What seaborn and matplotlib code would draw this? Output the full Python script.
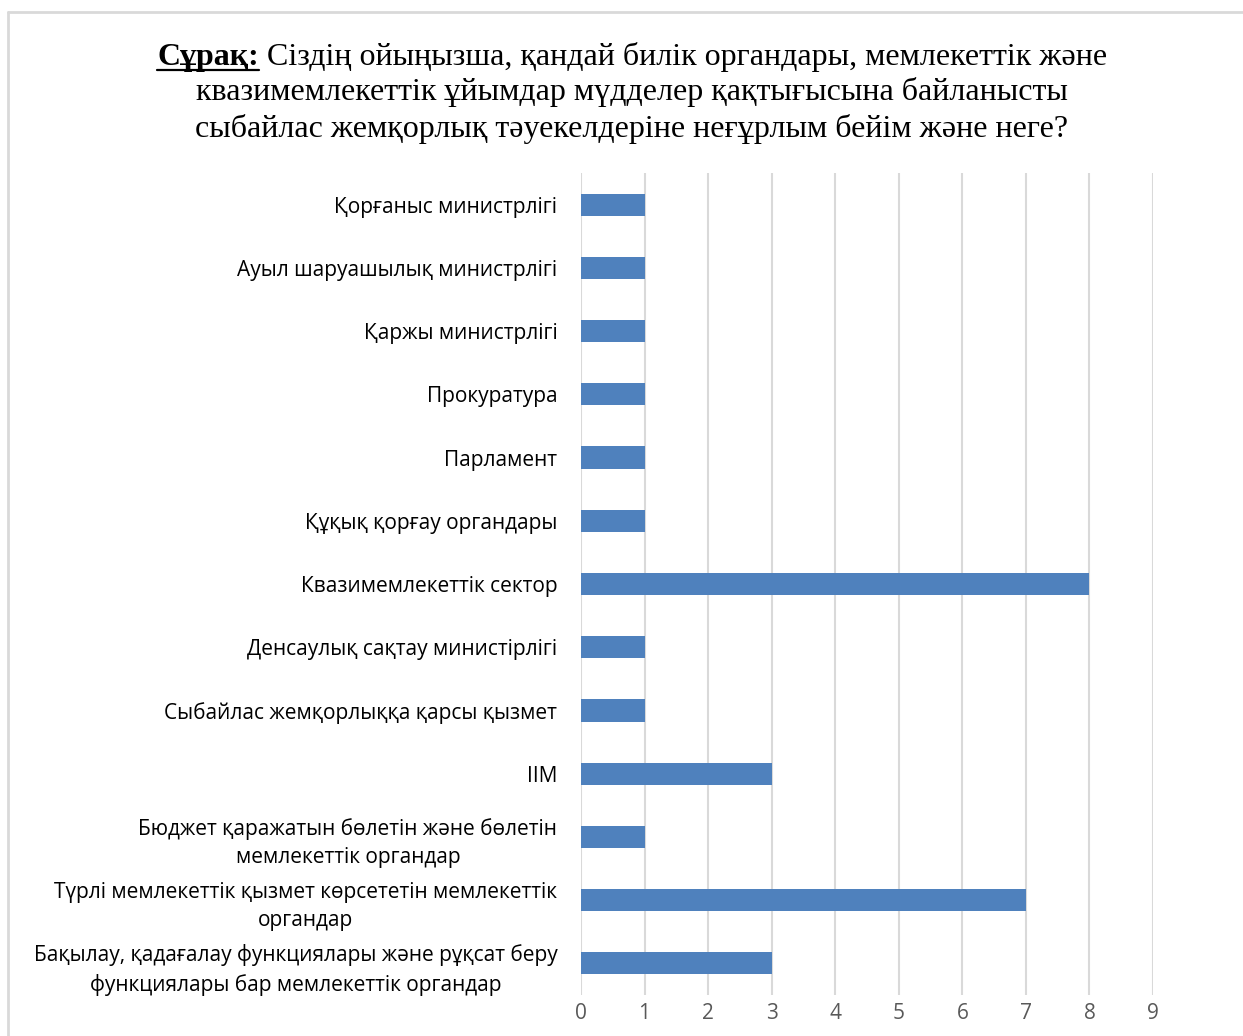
import matplotlib
matplotlib.use('Agg')
import matplotlib.pyplot as plt
import seaborn as sns
import pandas as pd

categories = [
    'Қорғаныс министрлігі',
    'Ауыл шаруашылық министрлігі',
    'Қаржы министрлігі',
    'Прокуратура',
    'Парламент',
    'Құқық қорғау органдары',
    'Квазимемлекеттік сектор',
    'Денсаулық сақтау министірлігі',
    'Сыбайлас жемқорлыққа қарсы қызмет',
    'ІІМ',
    'Бюджет қаражатын бөлетін және бөлетін\nмемлекеттік органдар',
    'Түрлі мемлекеттік қызмет көрсететін мемлекеттік\nоргандар',
    'Бақылау, қадағалау функциялары және рұқсат беру\nфункциялары бар мемлекеттік органдар',
]
values = [1, 1, 1, 1, 1, 1, 8, 1, 1, 3, 1, 7, 3]
xticks = list(range(0, 10))

title_bold = 'Сұрақ:'
title_rest = ' Сіздің ойыңызша, қандай билік органдары, мемлекеттік және'
title_lines = [
    'квазимемлекеттік ұйымдар мүдделер қақтығысына байланысты',
    'сыбайлас жемқорлық тәуекелдеріне неғұрлым бейім және неге?',
]

sns.set_style('white')
plt.rcParams['font.family'] = ['Open Sans', 'DejaVu Sans']
plt.rcParams['text.color'] = 'black'

df = pd.DataFrame({'cat': categories, 'val': values})

fig = plt.figure(figsize=(12.43, 10.36), dpi=100)
ax = fig.add_axes([0.4674, 0.0396, 0.4602, 0.7934])

sns.barplot(data=df, y='cat', x='val', orient='h', color='#4F81BD',
            saturation=1, width=0.35, ax=ax, edgecolor='none')

ax.set_xlim(0, 9)
ax.set_ylim(12.5, -0.5)
ax.set_xticks(xticks)
ax.grid(axis='x', color='#d9d9d9', linewidth=1.5)
ax.set_axisbelow(True)
for s in ax.spines.values():
    s.set_visible(False)
ax.set_xlabel('')
ax.set_ylabel('')
ax.tick_params(axis='x', length=0, pad=6, labelsize=15, labelcolor='#595959')
ax.tick_params(axis='y', length=0, pad=17, labelsize=15, labelcolor='#000000')
for lab in ax.get_yticklabels():
    lab.set_multialignment('center')
    lab.set_linespacing(1.45)

# chart border
fig.add_artist(plt.Line2D([8 / 1243, 8 / 1243], [0, 1 - 12 / 1036],
                          transform=fig.transFigure, color='#d9d9d9', lw=2))
fig.add_artist(plt.Line2D([8 / 1243, 1], [1 - 12 / 1036, 1 - 12 / 1036],
                          transform=fig.transFigure, color='#d9d9d9', lw=2))

# title
serif = ['Liberation Serif', 'DejaVu Serif']
fs = 23
cx = 632 / 1243
t1 = fig.text(0, 1 - 57 / 1036, title_bold, fontsize=fs, family=serif,
              fontweight='bold', va='center', ha='left')
t2 = fig.text(0, 1 - 57 / 1036, title_rest, fontsize=fs, family=serif,
              va='center', ha='left')
fig.canvas.draw()
r = fig.canvas.get_renderer()
w1 = t1.get_window_extent(r).width
w2 = t2.get_window_extent(r).width
x0 = cx * 1243 - (w1 + w2) / 2
t1.set_x(x0 / 1243)
t2.set_x((x0 + w1) / 1243)
uy = 1 - 70 / 1036
fig.add_artist(plt.Line2D([x0 / 1243, (x0 + w1) / 1243], [uy, uy],
                          transform=fig.transFigure, color='black', lw=1.6))
for i, line in enumerate(title_lines):
    fig.text(cx, 1 - (92 + 36.5 * i) / 1036, line, fontsize=fs, family=serif,
             va='center', ha='center')

fig.savefig('out.png', dpi=100)
